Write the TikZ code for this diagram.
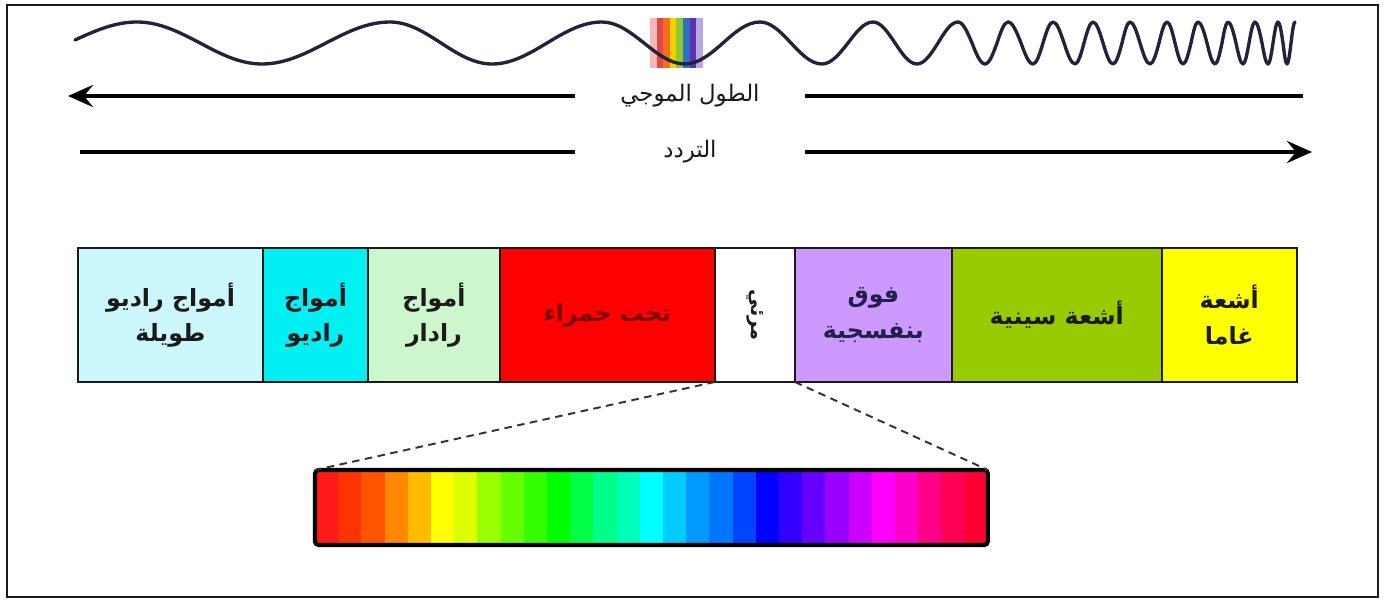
\documentclass[tikz,border=0pt]{standalone}
\usepackage{fontspec}
\newfontfamily\arabicfont[Script=Arabic]{DejaVu Sans}
\TeXXeTstate=1
\usetikzlibrary{arrows.meta,positioning}
\definecolor{emInk}{HTML}{1A1A1A}
\definecolor{emWave}{HTML}{22223A}
\definecolor{emLong}{HTML}{CCF7FB}
\definecolor{emRadio}{HTML}{00F0F4}
\definecolor{emRadar}{HTML}{CCF7CC}
\definecolor{emInfra}{HTML}{FF0000}
\definecolor{emInfraText}{HTML}{7A0000}
\definecolor{emUltra}{HTML}{CC99FF}
\definecolor{emUltraText}{HTML}{20204A}
\definecolor{emXray}{HTML}{99CC00}
\definecolor{emGamma}{HTML}{FFFF00}
\definecolor{emDash}{HTML}{333333}
\newcommand{\artxt}[1]{{\arabicfont\beginR #1\endR}}
\tikzset{
  em canvas/.style={fill=white},
  em frame/.style={draw=emInk, line width=1.6pt},
  em wave/.style={draw=emWave, line width=1.9pt, line cap=round, line join=round},
  em axis/.style={draw=black, line width=2.3pt},
  em axis tip/.style={em axis, -{Stealth[length=5mm,width=4.4mm,inset=1.8mm]}},
  em caption/.style={font=\fontsize{13}{15}\selectfont, text=emInk,
    minimum width=4.6cm, inner sep=0pt},
  em band/.style={draw=emInk, line width=1pt, minimum height=2.68cm,
    inner sep=0pt, outer sep=0pt, align=center, text=emInk,
    font=\fontsize{13.5}{20}\selectfont\bfseries},
  em spectrum/.style={draw=black, line width=2.3pt, rounded corners=2pt,
    minimum width=13.46cm, minimum height=1.5cm, inner sep=0pt, outer sep=0pt},
  em zoom/.style={draw=emDash, line width=1.1pt, dash pattern=on 1.5mm off 1.1mm}
}

\begin{document}
\begin{tikzpicture}[x=0.02cm,y=-0.02cm]
  \path[em canvas, use as bounding box] (0,0) rectangle (1386,605);
  \draw[em frame] (7,5) rectangle (1378,597);

  % visible light patch behind the wave
  \foreach \c [count=\i from 0] in {F4B8B8,E04848,F07020,F5D000,90C830,3070C0,6030B0,B8A8E0}{
    \definecolor{emstripe}{HTML}{\c}
    \fill[emstripe] ({650+\i*6.6},18) rectangle ({650+(\i+1)*6.6+0.4},68);
  }

  % wave, shorter towards the right
  \draw[em wave] (75,40)
    \foreach \e/\z/\s in {137/200/-1, 262/326/1, 390/441/-1, 492/547/1,
      602/644/-1, 685/723/1, 760/791/-1, 822/848/1, 873/895/-1, 917/938/1,
      958/972/-1, 985/997/1, 1008/1021/-1, 1033/1043/1, 1053/1064/-1,
      1075/1084/1, 1093/1103/-1, 1113/1122/1, 1130/1140/-1, 1150/1159/1,
      1167/1175/-1, 1183/1191/1, 1198/1207/-1, 1215/1222/1, 1228/1236/-1,
      1243/1249/1, 1255/1262/-1, 1268/1273/1, 1278/1283/-1, 1287/1291/1}
    { sin (\e,{43+21*\s}) cos (\z,43) }
    sin (1295,22);

  % wavelength and frequency
  \node[em caption] (wl) at (690,96) {\artxt{الطول الموجي}};
  \coordinate (wlL) at (68,96);
  \coordinate (wlR) at (1303,96);
  \draw[em axis tip] (wl.west) -- (wlL);
  \draw[em axis] (wl.east) -- (wlR);

  \node[em caption] (fr) at (690,152) {\artxt{التردد}};
  \coordinate (frL) at (80,152);
  \coordinate (frR) at (1312,152);
  \draw[em axis] (fr.west) -- (frL);
  \draw[em axis tip] (fr.east) -- (frR);

  % bands
  \node[em band, fill=emLong, minimum width=3.7cm, anchor=north west] (long) at (78,248)
    {\artxt{أمواج راديو}\\\artxt{طويلة}};
  \node[em band, fill=emRadio, minimum width=2.1cm, right=0pt of long] (radio)
    {\artxt{أمواج}\\\artxt{راديو}};
  \node[em band, fill=emRadar, minimum width=2.64cm, right=0pt of radio] (radar)
    {\artxt{أمواج}\\\artxt{رادار}};
  \node[em band, fill=emInfra, text=emInfraText, minimum width=4.3cm, right=0pt of radar] (infra)
    {\artxt{تحت حمراء}};
  \node[em band, fill=white, minimum width=1.6cm, right=0pt of infra] (vis) {};
  \node[font=\fontsize{11}{13}\selectfont\bfseries, text=emInk, rotate=-90] (vislabel) at (vis.center)
    {\artxt{مرئي}};
  \node[em band, fill=emUltra, text=emUltraText, minimum width=3.14cm, right=0pt of vis] (ultra)
    {\artxt{فوق}\\\artxt{بنفسجية}};
  \node[em band, fill=emXray, minimum width=4.2cm, right=0pt of ultra] (xray)
    {\artxt{أشعة سينية}};
  \node[em band, fill=emGamma, minimum width=2.7cm, right=0pt of xray] (gamma)
    {\artxt{أشعة}\\\artxt{غاما}};

  % visible spectrum
  \foreach \c [count=\i from 0] in {FF1A1A,FF3300,FF5500,FF8800,FFBB00,FFFF00,DDFF00,99FF00,
      66FF00,33FF00,00FF00,00FF44,00FF88,00FFBB,00FFFF,00CCFF,0099FF,0077FF,0044FF,
      0000FF,3300FF,6600FF,9900FF,CC00FF,FF00FF,FF00CC,FF0088,FF0055,FF0033}{
    \definecolor{emstripe}{HTML}{\c}
    \fill[emstripe] ({315+\i*23.2},470) rectangle ({315+(\i+1)*23.2+0.5},545);
  }
  \node[em spectrum, anchor=north west] (spec) at (315,470) {};

  \draw[em zoom] (vis.south west) -- (spec.north west);
  \draw[em zoom] (vis.south east) -- (spec.north east);
\end{tikzpicture}
\end{document}
